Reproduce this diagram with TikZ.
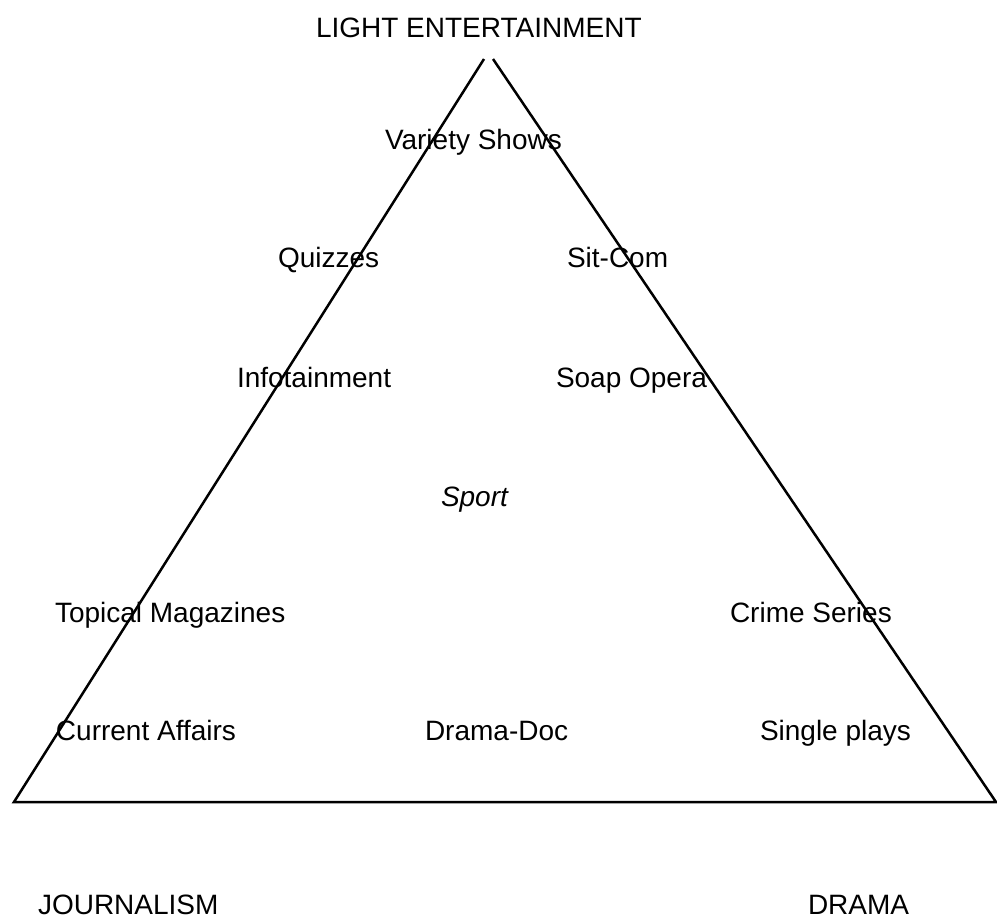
\documentclass[tikz,border=0pt]{standalone}
\usepackage{fontspec}
\setmainfont{Liberation Sans}
\begin{document}
\begin{tikzpicture}[x=1pt,y=-1pt,
  lbl/.style={anchor=base west,inner sep=0pt,outer sep=0pt,font=\fontsize{28}{34}\selectfont},
  edge/.style={line width=2.5pt,line join=miter,black}]
\useasboundingbox (0,0) rectangle (997,918);
\coordinate (apexL) at (484,59);
\coordinate (apexR) at (493,59);
\coordinate (bl) at (14,802);
\coordinate (br) at (996,802);
\draw[edge] (apexL) -- (bl) -- (br) -- (apexR);
\node[lbl] (le) at (316,37) {LIGHT ENTERTAINMENT};
\node[lbl] (vs) at (385,149) {Variety Shows};
\node[lbl] (qz) at (278,267) {Quizzes};
\node[lbl] (sc) at (567,267) {Sit-Com};
\node[lbl] (inf) at (237,387) {Infotainment};
\node[lbl] (so) at (556,387) {Soap Opera};
\node[lbl,font=\fontsize{28}{34}\selectfont\itshape] (sp) at (441,506) {Sport};
\node[lbl] (tm) at (55,622) {Topical Magazines};
\node[lbl] (cs) at (730,622) {Crime Series};
\node[lbl] (ca) at (56,740) {Current Affairs};
\node[lbl] (dd) at (425,740) {Drama-Doc};
\node[lbl] (sp2) at (760,740) {Single plays};
\node[lbl] (jo) at (38,914) {JOURNALISM};
\node[lbl] (dr) at (808,914) {DRAMA};
\end{tikzpicture}
\end{document}
